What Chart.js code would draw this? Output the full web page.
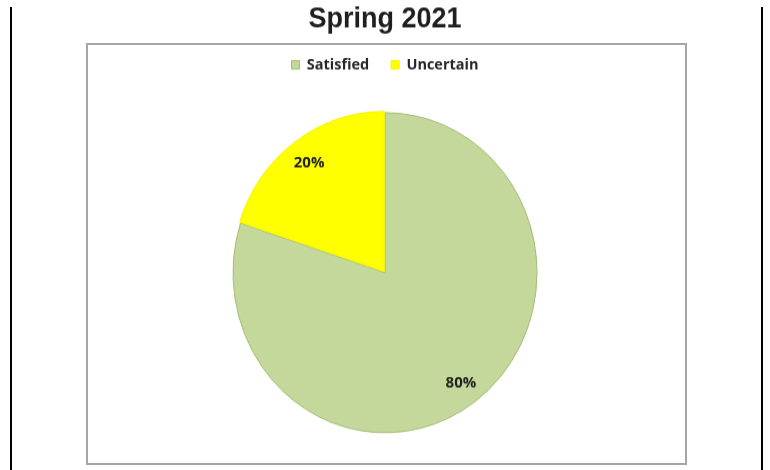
<!DOCTYPE html>
<html lang="en">
<head>
    <meta charset="UTF-8">
    <title>Spring 2021</title>
    <script src="https://cdn.jsdelivr.net/npm/chart.js"></script>
    <style>
        html, body {
            margin: 0;
            padding: 0;
            width: 770px;
            height: 470px;
            overflow: hidden;
            background: #fff;
        }
        .rule {
            position: absolute;
            top: 7px;
            bottom: 0;
            width: 2px;
            background: #000;
        }
        .rule.left { left: 10px; }
        .rule.right { left: 761px; }
        .frame {
            position: absolute;
            left: 86px;
            top: 43px;
            width: 597px;
            height: 418px;
            border: 2px solid #a6a6a6;
        }
        /* chart is drawn a little squashed and stretched back to height */
        .wrap {
            position: absolute;
            left: 0;
            top: 0;
            width: 770px;
            height: 446px;
            transform: scaleY(1.053);
            transform-origin: 0 0;
        }
    </style>
</head>
<body>
    <div class="rule left"></div>
    <div class="rule right"></div>
    <div class="frame"></div>
    <div class="wrap"><canvas id="springChart"></canvas></div>
    <script>
        const labels = ['Satisfied', 'Uncertain'];
        const shares = [80, 20];
        const colors = ['#c5d89b', '#ffff00'];
        const edges = ['#a3bd72', '#f2f200'];

        // percent text inside each slice
        const sliceLabels = {
            id: 'sliceLabels',
            afterDatasetsDraw(chart) {
                const ctx = chart.ctx;
                const meta = chart.getDatasetMeta(0);
                ctx.save();
                ctx.font = 'bold 15px "Open Sans", sans-serif';
                ctx.fillStyle = '#1f1f1f';
                ctx.textAlign = 'center';
                ctx.textBaseline = 'middle';
                meta.data.forEach((arc, i) => {
                    const p = arc.getProps(['x', 'y', 'startAngle', 'endAngle', 'outerRadius'], true);
                    const mid = (p.startAngle + p.endAngle) / 2;
                    const r = p.outerRadius * 0.85;
                    ctx.fillText(shares[i] + '%', p.x + Math.cos(mid) * r, p.y + Math.sin(mid) * r);
                });
                ctx.restore();
            }
        };

        const ctx = document.getElementById('springChart').getContext('2d');
        new Chart(ctx, {
            type: 'pie',
            data: {
                labels: labels,
                datasets: [{
                    data: shares,
                    backgroundColor: colors,
                    borderColor: edges,
                    borderWidth: 1,
                    offset: [0, 5]
                }]
            },
            options: {
                responsive: true,
                maintainAspectRatio: false,
                animation: false,
                radius: 152,
                layout: {
                    padding: { bottom: 7 }
                },
                plugins: {
                    title: {
                        display: true,
                        text: 'Spring 2021',
                        color: '#1f1f1f',
                        font: { family: '"Liberation Sans", Arial, sans-serif', size: 27, weight: 'bold', lineHeight: 1.05 },
                        padding: { top: 4, bottom: 0 }
                    },
                    legend: {
                        position: 'top',
                        labels: {
                            boxWidth: 8,
                            boxHeight: 8,
                            padding: 22,
                            color: '#262626',
                            font: { family: '"Open Sans", sans-serif', size: 14.5, weight: 'bold' }
                        }
                    },
                    tooltip: { enabled: false }
                }
            },
            plugins: [sliceLabels]
        });
    </script>
</body>
</html>
